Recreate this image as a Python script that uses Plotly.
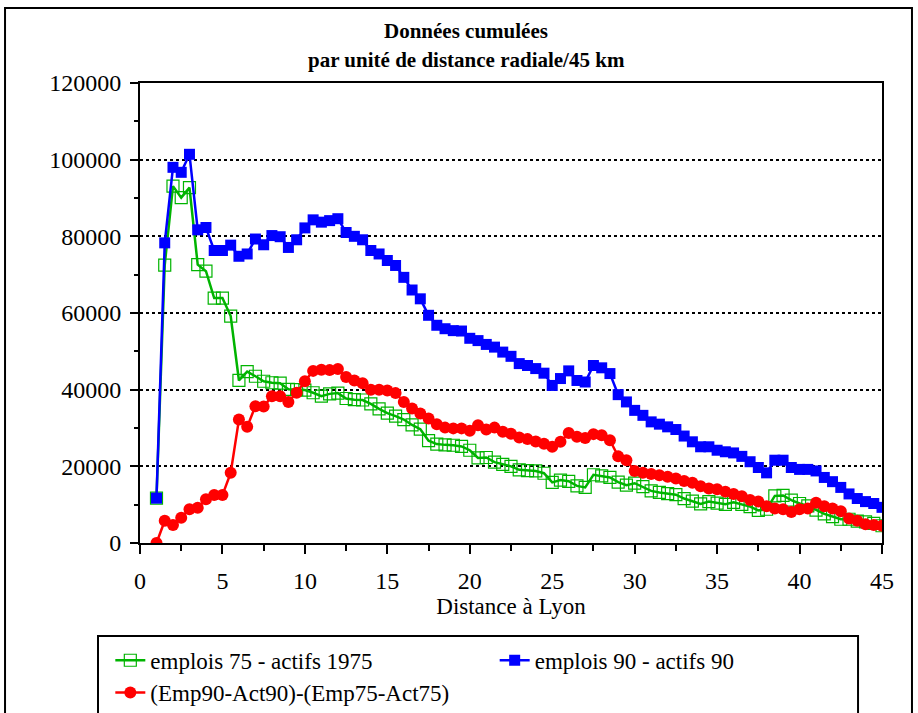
import plotly.graph_objects as go

# distance to Lyon (km), one point every half unit
distance = [
    1, 1.5, 2, 2.5, 3, 3.5, 4, 4.5, 5, 5.5, 6, 6.5, 7, 7.5, 8, 8.5, 9, 9.5,
    10, 10.5, 11, 11.5, 12, 12.5, 13, 13.5, 14, 14.5, 15, 15.5, 16, 16.5,
    17, 17.5, 18, 18.5, 19, 19.5, 20, 20.5, 21, 21.5, 22, 22.5, 23, 23.5,
    24, 24.5, 25, 25.5, 26, 26.5, 27, 27.5, 28, 28.5, 29, 29.5, 30, 30.5,
    31, 31.5, 32, 32.5, 33, 33.5, 34, 34.5, 35, 35.5, 36, 36.5, 37, 37.5,
    38, 38.5, 39, 39.5, 40, 40.5, 41, 41.5, 42, 42.5, 43, 43.5, 44, 44.5, 45,
]

emp75_act75 = [
    11700, 72500, 93100, 90100, 92700, 72600, 70900, 63900, 63900, 59200,
    42400, 44700, 43500, 42200, 41800, 41700, 40100, 40000, 39900, 39200,
    38300, 38900, 39100, 37700, 37400, 37300, 36300, 35000, 33900, 33100,
    32200, 30800, 29700, 26700, 25800, 25600, 25500, 25200, 24200, 22200,
    22300, 21100, 20500, 20000, 19100, 18900, 18800, 18200, 15800, 16400,
    16100, 14900, 14500, 17800, 17500, 17100, 15900, 15100, 15600, 14700,
    13600, 13200, 12900, 12600, 11600, 10900, 10200, 10800, 10400, 10100,
    10600, 10100, 9500, 8500, 8800, 12300, 12400, 11200, 10300, 9700,
    8600, 7600, 6900, 6200, 6200, 5700, 5500, 5100, 4500,
]

emp90_act90 = [
    11700, 78300, 98000, 96700, 101400, 81700, 82300, 76300, 76300, 77700,
    74800, 75400, 79300, 77800, 80200, 79900, 77100, 79100, 82200, 84300,
    83700, 84100, 84600, 81000, 80000, 79100, 76300, 75400, 73700, 72400,
    69300, 66000, 63700, 59400, 56800, 55900, 55400, 55300, 53400, 52800,
    51800, 51100, 49800, 48700, 46800, 46300, 45500, 44300, 41100, 42900,
    44900, 42400, 42000, 46300, 45700, 44200, 38700, 36800, 34600, 33300,
    31600, 31000, 30300, 29600, 27900, 26400, 25100, 25100, 24200, 23800,
    23500, 22600, 21200, 19700, 18300, 21600, 21600, 19700, 19200, 19200,
    18800, 17100, 16000, 14500, 12800, 11600, 10800, 10300, 9300,
]

difference = [
    0, 5800, 4700, 6600, 8800, 9200, 11400, 12500, 12500, 18300,
    32200, 30300, 35700, 35600, 38300, 38300, 36800, 39200, 42200, 44900,
    45200, 45100, 45400, 43300, 42400, 41700, 40000, 40000, 39800, 39100,
    36800, 35100, 33800, 32500, 31000, 30100, 29900, 29900, 29300, 30700,
    29600, 30100, 29000, 28500, 27500, 27100, 26500, 25900, 25100, 26400,
    28700, 27700, 27400, 28400, 28100, 26800, 22600, 21600, 18800, 18300,
    18000, 17700, 17300, 16800, 16200, 15700, 14800, 14200, 14000, 13400,
    12800, 12200, 11200, 10800, 9600, 9000, 8800, 8100, 8800, 9000,
    10500, 9600, 9000, 8300, 6400, 5800, 4900, 4700, 4500,
]

FONT = "Liberation Serif, Times New Roman, serif"
GREEN = "#00b400"
BLUE = "#0000ff"
RED = "#ff0000"

fig = go.Figure()
fig.add_trace(go.Scatter(
    x=distance, y=emp75_act75, name="emplois 75 - actifs 1975",
    mode="lines+markers", legend="legend",
    line=dict(color=GREEN, width=2.5),
    marker=dict(symbol="square-open", size=12, color=GREEN,
                line=dict(width=1.2, color=GREEN)),
))
fig.add_trace(go.Scatter(
    x=distance, y=emp90_act90, name="emplois 90 - actifs 90",
    mode="lines+markers", legend="legend2",
    line=dict(color=BLUE, width=2.5),
    marker=dict(symbol="square", size=11, color=BLUE),
))
fig.add_trace(go.Scatter(
    x=distance, y=difference, name="(Emp90-Act90)-(Emp75-Act75)",
    mode="lines+markers", legend="legend3",
    line=dict(color=RED, width=2.5),
    marker=dict(symbol="circle", size=12, color=RED),
))

legend_style = dict(
    orientation="h", xanchor="left", yanchor="middle",
    bgcolor="rgba(0,0,0,0)", font=dict(family=FONT, size=23, color="black"),
    itemwidth=30,
)

fig.update_layout(
    width=918,
    height=713,
    paper_bgcolor="white",
    plot_bgcolor="white",
    margin=dict(l=140, r=36, t=83, b=170, autoexpand=False),
    font=dict(family=FONT, size=23, color="black"),
    showlegend=True,
    legend=dict(x=-0.040, y=-0.255, **legend_style),
    legend2=dict(x=0.478, y=-0.255, **legend_style),
    legend3=dict(x=-0.040, y=-0.325, **legend_style),
    xaxis=dict(
        range=[0, 45], dtick=5, tick0=0,
        showline=True, linecolor="black", linewidth=2, mirror=True,
        ticks="outside", ticklen=9, tickwidth=2, tickcolor="black",
        minor=dict(dtick=2.5, ticks="outside", ticklen=6, tickwidth=2,
                   tickcolor="black"),
        showgrid=False, zeroline=False,
        ticklabelstandoff=6,
        tickfont=dict(family=FONT, size=24),
        title=dict(text="Distance à Lyon", standoff=5,
                   font=dict(family=FONT, size=23)),
    ),
    yaxis=dict(
        range=[0, 120000], dtick=20000, tick0=0, tickformat="d",
        showline=True, linecolor="black", linewidth=2, mirror=True,
        ticks="outside", ticklen=8, tickwidth=2, tickcolor="black",
        minor=dict(dtick=10000, ticks="outside", ticklen=4, tickwidth=2,
                   tickcolor="black"),
        showgrid=True, gridcolor="black", gridwidth=2, griddash="dot",
        zeroline=False,
        ticklabelstandoff=4,
        tickfont=dict(family=FONT, size=24),
    ),
    annotations=[
        dict(text="<b>Données cumulées</b>",
             xref="paper", yref="paper", x=0.44, y=1.113,
             xanchor="center", yanchor="middle", showarrow=False,
             font=dict(family=FONT, size=21, color="black")),
        dict(text="<b>par unité de distance radiale/45 km</b>",
             xref="paper", yref="paper", x=0.44, y=1.05,
             xanchor="center", yanchor="middle", showarrow=False,
             font=dict(family=FONT, size=21, color="black")),
    ],
    shapes=[
        # outer frame of the chart
        dict(type="rect", xref="paper", yref="paper",
             x0=-0.1819, x1=1.0404, y0=-0.6, y1=1.1630,
             line=dict(color="black", width=2)),
        # legend box
        dict(type="rect", xref="paper", yref="paper",
             x0=-0.0566, x1=0.9677, y0=-0.6, y1=-0.2022,
             line=dict(color="black", width=2)),
    ],
)

fig.write_html(
    "out.html",
    config={"displayModeBar": False},
    post_script="document.body.style.margin = '0px';",
)
